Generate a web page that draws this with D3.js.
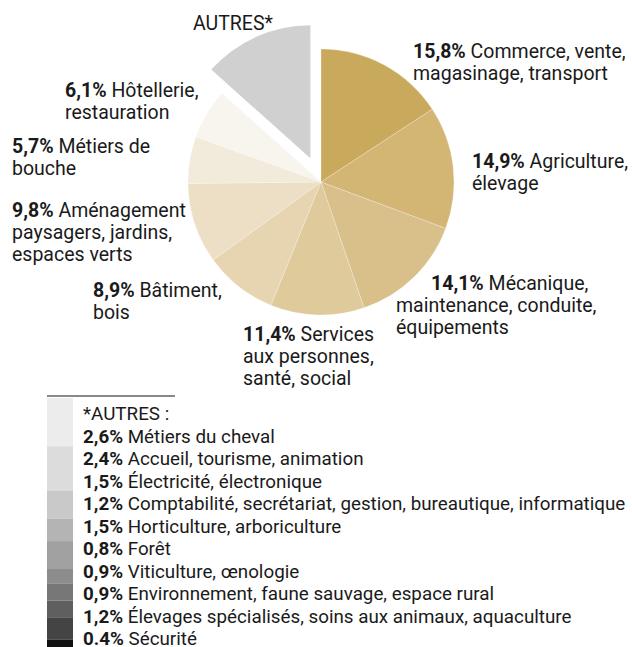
<!DOCTYPE html>
<html>
<head>
<meta charset="utf-8">
<script src="https://d3js.org/d3.v7.min.js"></script>
<style>
  body { margin: 0; background: #fff; }
  text { font-family: Roboto, "Noto Sans", sans-serif; fill: #1a1a1a; }
</style>
</head>
<body>
<script>
// secteurs principaux, dans l'ordre horaire depuis midi
const categories = [
  ["Commerce, vente,", "magasinage, transport"],
  ["Agriculture,", "élevage"],
  ["Mécanique,", "maintenance, conduite,", "équipements"],
  ["Services", "aux personnes,", "santé, social"],
  ["Bâtiment,", "bois"],
  ["Aménagement", "paysagers, jardins,", "espaces verts"],
  ["Métiers de", "bouche"],
  ["Hôtellerie,", "restauration"]
];
const values = [15.8, 14.9, 14.1, 11.4, 8.9, 9.8, 5.7, 6.1];
const pieColors = ["#c9a95b", "#d3b574", "#d9c08a", "#dfca9c", "#e6d5b0",
                   "#ecdfc6", "#f2eadb", "#f8f4ee"];

// détail des "autres"
const autresLabels = ["Métiers du cheval", "Accueil, tourisme, animation",
  "Électricité, électronique",
  "Comptabilité, secrétariat, gestion, bureautique, informatique",
  "Horticulture, arboriculture", "Forêt", "Viticulture, œnologie",
  "Environnement, faune sauvage, espace rural",
  "Élevages spécialisés, soins aux animaux, aquaculture", "Sécurité"];
const autresValues = [2.6, 2.4, 1.5, 1.2, 1.5, 0.8, 0.9, 0.9, 1.2, 0.4];
const autresPct = ["2,6%", "2,4%", "1,5%", "1,2%", "1,5%", "0,8%", "0,9%", "0,9%", "1,2%", "0.4%"];
const autresColors = ["#ececec", "#dcdcdc", "#c9c9c9", "#b4b4b4", "#a1a1a1",
                      "#8c8c8c", "#777777", "#5f5f5f", "#444444", "#111111"];
const autresColor = "#d0d0d0";

// placement des étiquettes (x de la 1re ligne, x des suivantes, ligne de base)
const labelLayout = [
  [413, 413, 58], [472, 472, 168], [431, 396, 290], [243, 243, 341],
  [93, 93, 297], [12, 12, 217], [12, 12, 153], [65, 65, 97]
];

const W = 632, H = 647;
const cx = 321, cy = 182, R = 133, explode = 26;
const fontSize = 19.5, legSize = 18.8, lineH = 22;

const svg = d3.select("body").append("svg")
  .attr("width", W).attr("height", H);

const fmt = v => d3.format(".1f")(v).replace(".", ",") + "%";
const autresTotal = d3.sum(autresValues);
const allValues = values.concat([autresTotal]);

const pie = d3.pie().sort(null).value(d => d);
const arcs = pie(allValues);
const arc = d3.arc().innerRadius(0).outerRadius(R);

const g = svg.append("g").attr("transform", `translate(${cx},${cy})`);

g.selectAll("path.slice")
  .data(arcs)
  .join("path")
  .attr("class", "slice")
  .attr("d", arc)
  .attr("fill", (d, i) => i < values.length ? pieColors[i] : autresColor)
  .attr("stroke", (d, i) => i < values.length ? "#fff" : "none")
  .attr("stroke-width", 0.4)
  .attr("stroke-opacity", 0.6)
  .attr("transform", (d, i) => {
    if (i < values.length) return null;
    const a = (d.startAngle + d.endAngle) / 2;
    return `translate(${Math.sin(a) * explode},${-Math.cos(a) * explode})`;
  });

// étiquettes du camembert
categories.forEach((lines, i) => {
  const [x0, x1, y0] = labelLayout[i];
  const t = svg.append("text").attr("font-size", fontSize);
  lines.forEach((ln, j) => {
    const ts = t.append("tspan")
      .attr("x", j === 0 ? x0 : x1)
      .attr("y", y0 + j * lineH);
    if (j === 0) {
      ts.append("tspan").attr("font-weight", "bold").text(fmt(values[i]));
      ts.append("tspan").text(" " + ln);
    } else {
      ts.text(ln);
    }
  });
});

svg.append("text")
  .attr("x", 193).attr("y", 30)
  .attr("font-size", fontSize)
  .text("AUTRES*");

// légende des autres
svg.append("line")
  .attr("x1", 47).attr("x2", 175)
  .attr("y1", 396).attr("y2", 396)
  .attr("stroke", "#888").attr("stroke-width", 2);

const yStack = d3.scaleLinear().domain([0, autresTotal]).range([398, 647]);
let acc = 0;
const stack = autresValues.map(v => { const s = acc; acc += v; return [s, acc]; });

svg.selectAll("rect.sw")
  .data(stack)
  .join("rect")
  .attr("class", "sw")
  .attr("x", 47).attr("width", 26)
  .attr("y", d => yStack(d[0]))
  .attr("height", d => yStack(d[1]) - yStack(d[0]))
  .attr("fill", (d, i) => autresColors[i]);

const legY = 420, legStep = 22.5, legX = 83;
svg.append("text")
  .attr("x", legX).attr("y", legY)
  .attr("font-size", legSize)
  .text("*AUTRES :");

autresLabels.forEach((lab, i) => {
  const t = svg.append("text")
    .attr("x", legX).attr("y", legY + (i + 1) * legStep)
    .attr("font-size", legSize);
  t.append("tspan").attr("font-weight", "bold").text(autresPct[i]);
  t.append("tspan").text(" " + lab);
});
</script>
</body>
</html>
